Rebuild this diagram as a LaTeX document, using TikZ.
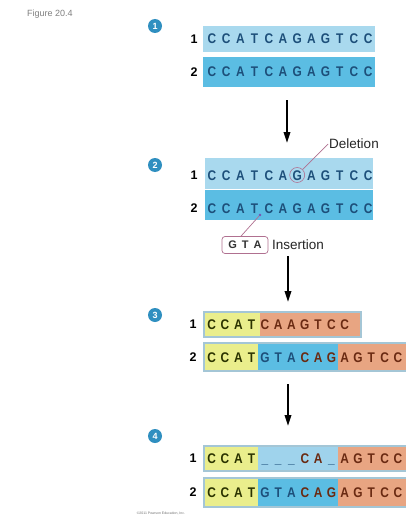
\documentclass[tikz,border=0pt]{standalone}
\usepackage{fontspec}
\setmainfont{Liberation Sans}
\usetikzlibrary{arrows.meta}
\definecolor{bluelt}{HTML}{A9D9EE}
\definecolor{bluedk}{HTML}{5BBDE3}
\definecolor{bluemid}{HTML}{9FD3EC}
\definecolor{ylw}{HTML}{EAEE8C}
\definecolor{org}{HTML}{E8A582}
\definecolor{txtblue}{HTML}{1D4F7A}
\definecolor{txtyel}{HTML}{2B3300}
\definecolor{txtorg}{HTML}{6A2A12}
\definecolor{stepc}{HTML}{2F8FC0}
\definecolor{conncol}{HTML}{B07090}
\definecolor{framec}{HTML}{A4C6D6}
\begin{document}
\begin{tikzpicture}[x=1pt,y=-1pt,
  seq/.style={font=\bfseries\fontsize{14}{14}\selectfont, inner sep=0pt, text height=10pt, text depth=0pt},
  rownum/.style={font=\bfseries\fontsize{12.5}{12.5}\selectfont, inner sep=0pt, text height=9pt, text depth=0pt},
  stepnum/.style={circle, fill=stepc, text=white, font=\bfseries\fontsize{9}{9}\selectfont, minimum size=14pt, inner sep=0pt},
  band/.style={inner sep=0pt, outer sep=0pt, draw=none},
  bigarrow/.style={line width=2pt, -{Triangle[length=11pt,width=6.5pt]}},
  conn/.style={conncol, line width=0.7pt},
  lbl/.style={font=\fontsize{13.5}{13.5}\selectfont, inner sep=1pt, text=black!85}
]
\useasboundingbox (0,0) rectangle (406,519);
\clip (0,0) rectangle (406,519);
\fill[white] (0,0) rectangle (406,519);

\node[font=\fontsize{9}{9}\selectfont, text=black!50, inner sep=0pt] (fig) at (50,14) {Figure 20.4};

% ---------- step 1
\node[stepnum] (n1) at (155,26) {1};
\node[band, fill=bluelt, minimum width=172pt, minimum height=26pt] (b11) at (289,39) {};
\node[band, fill=bluedk, minimum width=172pt, minimum height=30pt] (b12) at (289,72) {};
\node[rownum] (r11) at (194,39) {1};
\node[rownum] (r12) at (194,72) {2};
\foreach \l [count=\i from 0] in {C,C,A,T,C,A,G,A,G,T,C,C} {
  \node[seq, text=txtblue] (s11\i) at ({212+\i*14.2},39) {\scalebox{0.85}[1]{\l}};
  \node[seq, text=txtblue] (s12\i) at ({212+\i*14.2},72) {\scalebox{0.85}[1]{\l}};
}
\coordinate (a1s) at (287,100);
\coordinate (a1e) at (287,143);
\draw[bigarrow] (a1s) -- (a1e);

% ---------- step 2
\node[stepnum] (n2) at (155,165) {2};
\node[band, fill=bluelt, minimum width=168pt, minimum height=31pt] (b21) at (289,173) {};
\node[band, fill=bluedk, minimum width=168pt, minimum height=30pt] (b22) at (289,205) {};
\node[rownum] (r21) at (194,175) {1};
\node[rownum] (r22) at (194,208) {2};
\foreach \l [count=\i from 0] in {C,C,A,T,C,A,G,A,G,T,C,C} {
  \node[seq, text=txtblue] (s21\i) at ({212+\i*14.2},175) {\scalebox{0.85}[1]{\l}};
  \node[seq, text=txtblue] (s22\i) at ({212+\i*14.2},208) {\scalebox{0.85}[1]{\l}};
}
\node[circle, draw=conncol, line width=0.6pt, minimum size=15pt, inner sep=0pt] (gc) at (s216) {};
\node[lbl] (del) at (354,144) {Deletion};
\draw[conn] (del.west) -- (gc.north east);
\node[draw=conncol, rounded corners=3pt, line width=0.7pt, text=black!80,
      font=\bfseries\fontsize{11}{11}\selectfont, minimum width=46pt, minimum height=17pt, inner sep=1pt]
      (gta) at (245,245) {G\hspace{5pt}T\hspace{5pt}A};
\node[lbl, anchor=west] (ins) at (271,245) {Insertion};
\node[circle, fill=conncol!70!blue, inner sep=0pt, minimum size=2.8pt] (ip) at (260,215) {};
\draw[conn] ([xshift=-4pt]gta.north) -- (ip);
\coordinate (a2s) at (288,256);
\coordinate (a2e) at (288,302);
\draw[bigarrow] (a2s) -- (a2e);

% ---------- step 3
\node[stepnum] (n3) at (155,315) {3};
\node[band, fill=framec, minimum width=159pt, minimum height=27pt] (f31) at (282.5,324) {};
\node[band, fill=ylw, minimum width=55pt, minimum height=23pt] (y31) at (232.5,324) {};
\node[band, fill=org, minimum width=100pt, minimum height=23pt] (o31) at (310,324) {};
\node[band, fill=framec, minimum width=217pt, minimum height=30pt] (f32) at (311.5,357) {};
\node[band, fill=ylw, minimum width=53pt, minimum height=26pt] (y32) at (231.5,357) {};
\node[band, fill=bluedk, minimum width=80pt, minimum height=26pt] (u32) at (298,357) {};
\node[band, fill=org, minimum width=82pt, minimum height=26pt] (o32) at (379,357) {};
\node[rownum] (r31) at (193,324) {1};
\node[rownum] (r32) at (193,357) {2};
\foreach \l/\c [count=\i from 0] in {C/txtyel,C/txtyel,A/txtyel,T/txtyel,C/txtorg,A/txtorg,A/txtorg,G/txtorg,T/txtorg,C/txtorg,C/txtorg} {
  \node[seq, text=\c] (s31\i) at ({211.7+\i*13.3},324) {\scalebox{0.85}[1]{\l}};
}
\foreach \l/\c [count=\i from 0] in {C/txtyel,C/txtyel,A/txtyel,T/txtyel,G/txtblue,T/txtblue,A/txtblue,C/txtorg,A/txtorg,G/txtorg,A/txtorg,G/txtorg,T/txtorg,C/txtorg,C/txtorg} {
  \node[seq, text=\c] (s32\i) at ({211.7+\i*13.3},357) {\scalebox{0.85}[1]{\l}};
}
\coordinate (a3s) at (288,384);
\coordinate (a3e) at (288,426);
\draw[bigarrow] (a3s) -- (a3e);

% ---------- step 4
\node[stepnum] (n4) at (155,436) {4};
\node[band, fill=framec, minimum width=217pt, minimum height=27pt] (f41) at (311.5,458) {};
\node[band, fill=ylw, minimum width=53pt, minimum height=23pt] (y41) at (231.5,458) {};
\node[band, fill=bluemid, minimum width=80pt, minimum height=23pt] (u41) at (298,458) {};
\node[band, fill=org, minimum width=82pt, minimum height=23pt] (o41) at (379,458) {};
\node[band, fill=framec, minimum width=217pt, minimum height=31pt] (f42) at (311.5,492) {};
\node[band, fill=ylw, minimum width=53pt, minimum height=27pt] (y42) at (231.5,492) {};
\node[band, fill=bluedk, minimum width=80pt, minimum height=27pt] (u42) at (298,492) {};
\node[band, fill=org, minimum width=82pt, minimum height=27pt] (o42) at (379,492) {};
\node[rownum] (r41) at (193,458) {1};
\node[rownum] (r42) at (193,492) {2};
\foreach \l/\c [count=\i from 0] in {C/txtyel,C/txtyel,A/txtyel,T/txtyel,\_/txtblue,\_/txtblue,\_/txtblue,C/txtorg,A/txtorg,\_/txtblue,A/txtorg,G/txtorg,T/txtorg,C/txtorg,C/txtorg} {
  \node[seq, text=\c] (s41\i) at ({211.7+\i*13.3},458) {\scalebox{0.85}[1]{\l}};
}
\foreach \l/\c [count=\i from 0] in {C/txtyel,C/txtyel,A/txtyel,T/txtyel,G/txtblue,T/txtblue,A/txtblue,C/txtorg,A/txtorg,G/txtorg,A/txtorg,G/txtorg,T/txtorg,C/txtorg,C/txtorg} {
  \node[seq, text=\c] (s42\i) at ({211.7+\i*13.3},492) {\scalebox{0.85}[1]{\l}};
}
\node[font=\fontsize{3.5}{3.5}\selectfont, text=black!55, inner sep=0pt] (copy) at (161,513) {©2011 Pearson Education, Inc.};
\end{tikzpicture}
\end{document}
